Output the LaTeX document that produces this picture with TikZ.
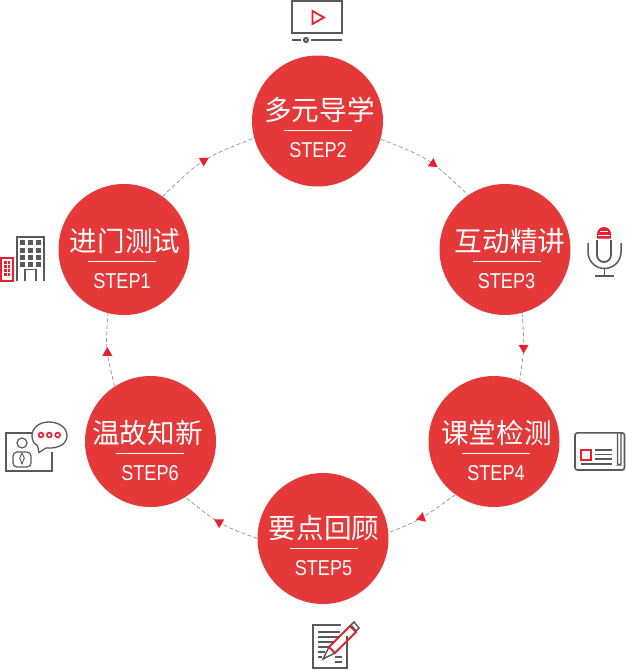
\documentclass[tikz,border=0pt]{standalone}
\usepackage{fontspec}
\setmainfont{Liberation Sans}
\newfontfamily\cjk{Noto Sans CJK SC}
\newfontfamily\stepfont[FakeStretch=0.84]{Liberation Sans}
\usetikzlibrary{shapes.geometric}
\definecolor{stepred}{HTML}{E53838}
\definecolor{iconred}{HTML}{E8202E}
\definecolor{icongray}{HTML}{595959}
\tikzset{
  stepcircle/.style={circle,fill=stepred,minimum size=131pt,inner sep=0pt},
  steptitle/.style={text=white,font=\cjk\fontsize{27.6}{28}\selectfont,inner sep=0pt},
  steplabel/.style={text=white,font=\stepfont\fontsize{21.5}{21.5}\selectfont,inner sep=0pt},
  stepline/.style={white,line width=.7pt},
  flow/.style={draw=gray!85,line width=.7pt,dash pattern=on 4pt off 2.5pt},
  tri/.style={regular polygon,regular polygon sides=3,fill=iconred,inner sep=0pt,minimum size=11.5pt,shape border rotate=#1},
  gi/.style={draw=icongray,line width=1.8pt},
  ri/.style={draw=iconred,line width=1.8pt},
}
% name, cx, cy, title x, text base y, title, step x, step text
\newcommand{\stepnode}[8]{%
  \node[stepcircle] (#1) at (#2,#3) {};
  \node[steptitle] (#1t) at (#4,#5-11) {#6};
  \node[steplabel] (#1s) at (#7,#5+29) {#8};
  \draw[stepline] (#7-34,#5+9) -- (#7+34,#5+9);
}
\begin{document}
\begin{tikzpicture}[x=1pt,y=-1pt]
\useasboundingbox (0,0) rectangle (626,670);
\stepnode{a}{124}{249.5}{125}{252}{进门测试}{122}{STEP1}
\stepnode{b}{317.5}{121}{319.5}{121}{多元导学}{318}{STEP2}
\stepnode{c}{505}{249.5}{510}{252}{互动精讲}{506.5}{STEP3}
\stepnode{d}{494}{441.5}{496.5}{444}{课堂检测}{496}{STEP4}
\stepnode{e}{323}{538.5}{324}{539.5}{要点回顾}{323.5}{STEP5}
\stepnode{f}{150.5}{441.5}{147.5}{444}{温故知新}{150}{STEP6}
% connectors
\coordinate (ab) at (202.2,158.5);
\coordinate (bc) at (428.8,158);
\coordinate (cd) at (524.6,346);
\coordinate (de) at (420.1,520);
\coordinate (ef) at (219.9,524.7);
\coordinate (fa) at (105.3,348);
\draw[flow] (a.54) .. controls (ab) .. node[pos=.5,tri=180]{} (b.195);
\draw[flow] (b.-16) .. controls (bc) .. node[pos=.58,tri=-6]{} (c.124.4);
\draw[flow] (c.-75) .. controls (cd) .. node[pos=.53,tri=180]{} (d.67);
\draw[flow] (d.-126) .. controls (de) .. node[pos=.48,tri=-11]{} (e.5);
\draw[flow] (e.180) .. controls (ef) .. node[pos=.52,tri=180]{} (f.-58.6);
\draw[flow] (f.123) .. controls (fa) .. node[pos=.42,tri=0]{} (a.-104);
% icon: screen
\draw[gi] (292,1) rectangle (342,33);
\draw[ri] (312.5,11)--(312.5,24)--(324,17.5)--cycle;
\draw[gi,line width=1.7pt] (292,40)--(301,40) (311,40)--(342,40);
\draw[gi,line width=2pt] (306,40) circle (2);
% icon: building
\draw[gi] (17,281)--(17,237)--(44,237)--(44,281);
\draw[gi] (25,281)--(25,269.5)--(36,269.5)--(36,281);
\foreach \x in {22.5,30.5,38.5} \foreach \y in {240,247.5,254.5,262} \fill[icongray] (\x-2.5,\y) rectangle (\x+2.5,\y+5);
\draw[ri] (1,258) rectangle (13,281);
\foreach \x in {4,7.5} \foreach \y in {261,265,269,273} \fill[iconred] (\x,\y) rectangle (\x+2.5,\y+2.5);
% icon: microphone
\fill[iconred] (597,238.5) -- (597,234) arc (180:0:7 and -7) -- (611,238.5) -- cycle;
\draw[white,line width=1pt] (600,231)--(608,231) (598,235)--(610,235);
\draw[gi] (597,240)--(597,255) arc (180:360:7 and -7) -- (611,240);
\draw[gi,line width=1.5pt] (588,243)--(588,252) arc (180:360:16.5 and -16.5) -- (621,243);
\draw[gi,line width=1.5pt] (604.5,268.5)--(604.5,276) (595,276)--(614,276);
% icon: newspaper
\draw[gi,line width=1.6pt,rounded corners=2.5pt] (575,470)--(575,432.8)--(624.5,432.8)--(624.5,470)--cycle;
\draw[gi,line width=1.4pt,rounded corners=2pt] (617.5,433)--(617.5,465)--(621,465)--(621,433);
\draw[ri] (581,450) rectangle (591,460);
\draw[gi,line width=1.2pt] (595,450)--(612,450) (595,454.5)--(612,454.5) (595,459)--(612,459) (581,464)--(612,464);
% icon: note and pencil
\draw[gi] (347,636)--(347,668)--(313,668)--(313,625)--(341,625);
\draw[gi,line width=1.1pt] (318,632)--(340,632) (318,637)--(340,637) (318,642)--(335,642) (318,647)--(330,647) (318,652)--(325,652) (318,657)--(322,657) (335,657)--(342,657) (335,662)--(342,662);
\draw[ri,line join=miter] (329,647)--(350,626)--(356,632)--(335,653)--cycle;
\draw[gi,line width=1.5pt] (329,647)--(323,659)--(335,653);
\draw[gi,line width=1.5pt] (351,625)--(354,622)--(359,628)--(356,631)--cycle;
% icon: talk
\draw[gi,line width=1.7pt] (32,433)--(6,433)--(6,471)--(52,471)--(52,452);
\draw[gi,line width=1.2pt] (22,443) circle (5);
\draw[gi,line width=1.2pt,rounded corners=4pt] (13,467)--(13,452)--(31,452)--(31,467)--cycle;
\draw[gi,line width=.9pt] (22,453)--(19.7,458)--(22,464)--(24.3,458)--cycle;
\draw[gi,line width=1.3pt,fill=white] (37.5,445.5)--(39,452.5)--(46,448) .. controls (60,449) and (67,443) .. (67,435.5) .. controls (67,427) and (58,422) .. (49,422) .. controls (39,422) and (32,428) .. (32,436) .. controls (32,440) and (34,444) .. (37.5,445.5) -- cycle;
\foreach \x in {41,49.3,57.7} \draw[iconred,line width=1.6pt] (\x,435) circle (2.4);
\end{tikzpicture}
\end{document}
